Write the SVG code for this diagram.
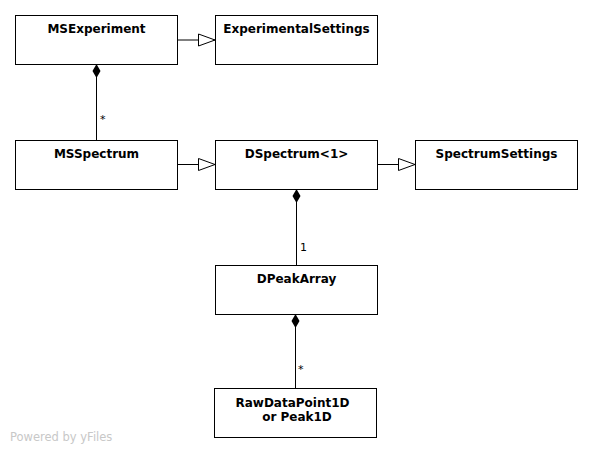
<svg xmlns="http://www.w3.org/2000/svg" width="592" height="453" viewBox="0 0 592 453">
<style>
.box{fill:#fff;stroke:#000;stroke-width:1}
.t{font-family:"DejaVu Sans",sans-serif;font-weight:bold;font-size:12px;text-anchor:middle;fill:#000}
.lbl{font-family:"DejaVu Sans",sans-serif;font-size:11px;fill:#000}
.ln{stroke:#000;stroke-width:1;fill:none}
</style>
<defs>
<marker id="gen" markerWidth="18" markerHeight="14" refX="17" refY="7" orient="auto" markerUnits="userSpaceOnUse">
<path d="M0.5,1 L17,7 L0.5,13 Z" fill="#fff" stroke="#000" stroke-width="1"/>
</marker>
<marker id="dia" markerWidth="10" markerHeight="16" refX="5" refY="0.5" orient="0" markerUnits="userSpaceOnUse">
<path d="M5,0.5 L9,7.5 L5,14.5 L1,7.5 Z" fill="#000"/>
</marker>
</defs>
<rect width="592" height="453" fill="#fff"/>
<g id="connectors">
<line class="ln" x1="177" y1="40" x2="215" y2="40" marker-end="url(#gen)"/>
<line class="ln" x1="177" y1="164.5" x2="215" y2="164.5" marker-end="url(#gen)"/>
<line class="ln" x1="377" y1="164.5" x2="415" y2="164.5" marker-end="url(#gen)"/>
<line class="ln" x1="96.5" y1="64" x2="96.5" y2="140" marker-start="url(#dia)"/>
<text class="lbl" x="100" y="123">*</text>
<line class="ln" x1="296.5" y1="189" x2="296.5" y2="265" marker-start="url(#dia)"/>
<text class="lbl" x="300" y="251">1</text>
<line class="ln" x1="295.5" y1="314" x2="295.5" y2="388" marker-start="url(#dia)"/>
<text class="lbl" x="298" y="373">*</text>
</g>
<g id="MSExperiment"><rect class="box" x="15.5" y="15.5" width="162" height="49"/><text class="t" x="96.5" y="32.5">MSExperiment</text></g>
<g id="ExperimentalSettings"><rect class="box" x="215.5" y="15.5" width="162" height="49"/><text class="t" x="296.5" y="32.5">ExperimentalSettings</text></g>
<g id="MSSpectrum"><rect class="box" x="15.5" y="140.5" width="162" height="49"/><text class="t" x="96.5" y="157.5">MSSpectrum</text></g>
<g id="DSpectrum"><rect class="box" x="215.5" y="140.5" width="162" height="49"/><text class="t" x="296.5" y="157.5">DSpectrum&lt;1&gt;</text></g>
<g id="SpectrumSettings"><rect class="box" x="415.5" y="140.5" width="162" height="49"/><text class="t" x="496.5" y="157.5">SpectrumSettings</text></g>
<g id="DPeakArray"><rect class="box" x="215.5" y="265.5" width="162" height="49"/><text class="t" x="296.5" y="282.5">DPeakArray</text></g>
<g id="RawDataPoint1D"><rect class="box" x="214.5" y="388.5" width="162" height="49"/><text class="t" x="292.5" y="407">RawDataPoint1D</text><text class="t" x="297" y="421">or Peak1D</text></g>
<text x="10" y="441" font-family="DejaVu Sans,sans-serif" font-size="11.5" fill="#c8c8c8">Powered by yFiles</text>
</svg>
